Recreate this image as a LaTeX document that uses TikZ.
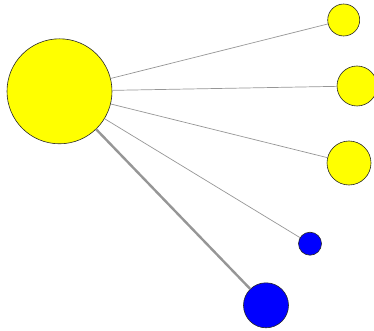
\documentclass[tikz,border=0pt]{standalone}
\definecolor{edgegray}{RGB}{150,150,150}
\definecolor{ylw}{RGB}{255,255,0}
\definecolor{blu}{RGB}{0,0,255}
\definecolor{rim}{RGB}{40,40,40}
\tikzset{
  vert/.style={circle, draw=rim, line width=0.6pt, inner sep=0pt},
  yv/.style={vert, fill=ylw},
  bv/.style={vert, fill=blu},
  thinedge/.style={draw=edgegray, line width=0.7pt},
  thickedge/.style={draw=edgegray, line width=2.4pt},
}
\begin{document}
\begin{tikzpicture}[x=1pt,y=-1pt]
\useasboundingbox (0,0) rectangle (374,331);
\node[yv, minimum size=105pt] (hub) at (59.5,91.3) {};
\node[yv, minimum size=32pt] (a) at (343.7,20) {};
\node[yv, minimum size=40pt] (b) at (357,86) {};
\node[yv, minimum size=44pt] (c) at (349,163) {};
\node[bv, minimum size=23pt] (d) at (310,243.7) {};
\node[bv, minimum size=45pt] (e) at (266,305.3) {};
\begin{scope}[on background layer/.style={}]
\draw[thinedge] (hub) -- (a);
\draw[thinedge] (hub) -- (b);
\draw[thinedge] (hub) -- (c);
\draw[thinedge] (hub) -- (d);
\draw[thickedge] (hub) -- (e);
\end{scope}
\end{tikzpicture}
\end{document}
